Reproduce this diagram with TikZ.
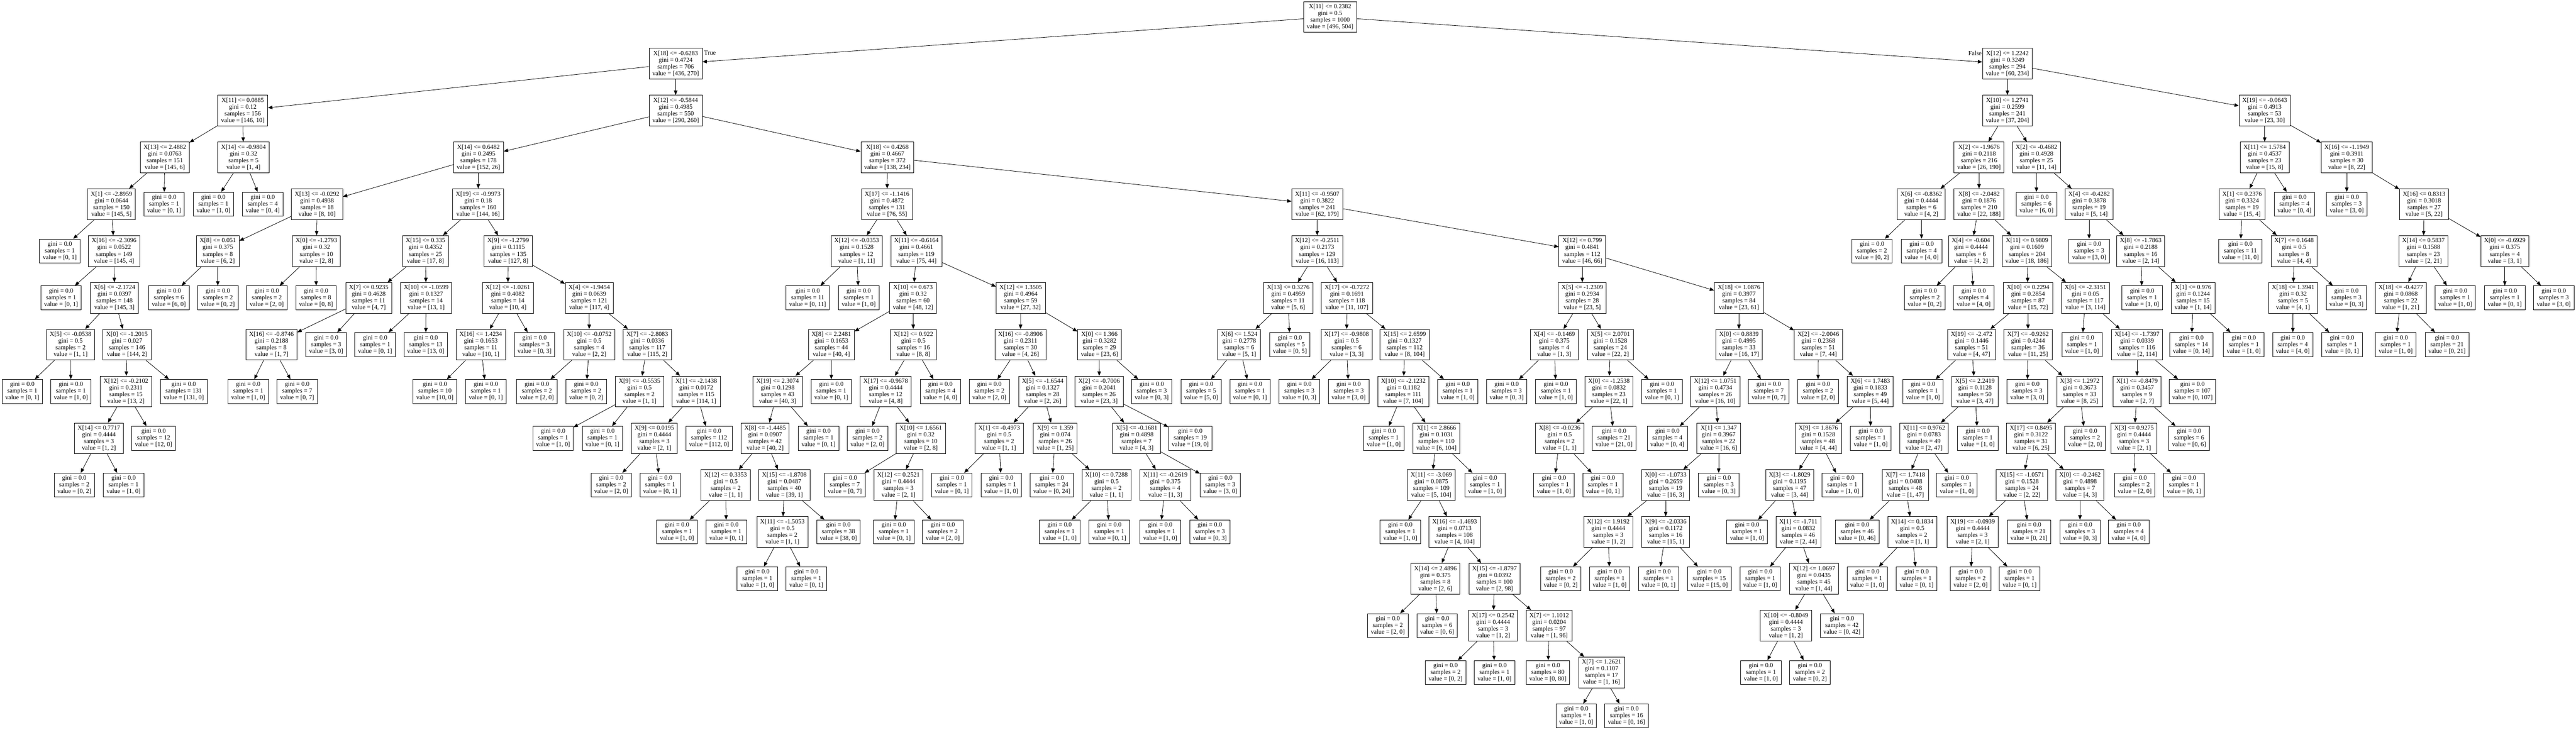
\documentclass[tikz,border=0pt]{standalone}
\usepackage{fontspec}
\setmainfont{Liberation Serif}
\usetikzlibrary{arrows.meta}

\begin{document}
\begin{tikzpicture}[x=0.02cm, y=-2.774cm, font=\fontsize{10.6}{11.3}\selectfont,
  arr/.style={-{Triangle[length=7.5pt,width=6pt]}, line width=0.7pt}]
\tikzstyle{inode}=[draw, rectangle, align=center, line width=0.7pt, inner xsep=5.5pt, inner ysep=2pt, minimum height=51.8pt]
\tikzstyle{lnode}=[inode, minimum height=40.4pt]
\useasboundingbox (0,-0.3605) rectangle (7629,15.2199);
% root
\node[inode] (n0) at (3939,0) {X[11] <= 0.2382\\gini = 0.5\\samples = 1000\\value = [496, 504]};
% split nodes: name/x/rank/feature/threshold/gini/samples/value/parent
\foreach \nm/\xx/\kk/\ft/\tv/\gv/\sv/\vv/\pa in {
n1/2001/1/18/-0.6283/0.4724/706/{436, 270}/n0, n2/5945/1/12/1.2242/0.3249/294/{60, 234}/n0,
n3/719/2/11/0.0885/0.12/156/{146, 10}/n1, n4/2001/2/12/-0.5844/0.4985/550/{290, 260}/n1,
n5/5945/2/10/1.2741/0.2599/241/{37, 204}/n2, n6/6707/2/19/-0.0643/0.4913/53/{23, 30}/n2,
n7/488/3/13/2.4882/0.0763/151/{145, 6}/n3, n8/721/3/14/-0.9804/0.32/5/{1, 4}/n3,
n9/1417/3/14/0.6482/0.2495/178/{152, 26}/n4, n10/2628/3/18/0.4268/0.4667/372/{138, 234}/n4,
n11/5861/3/2/-1.9676/0.2118/216/{26, 190}/n5, n12/6031/3/2/-0.4682/0.4928/25/{11, 14}/n5,
n13/6707/3/11/1.5784/0.4537/23/{15, 8}/n6, n14/6950/3/16/-1.1949/0.3911/30/{8, 22}/n6,
n15/330/4/1/-2.8959/0.0644/150/{145, 5}/n7, n19/939/4/13/-0.0292/0.4938/18/{8, 10}/n9,
n20/1416/4/19/-0.9973/0.18/160/{144, 16}/n9, n21/2627/4/17/-1.1416/0.4872/131/{76, 55}/n10,
n22/3901/4/11/-0.9507/0.3822/241/{62, 179}/n10, n23/5690/4/6/-0.8362/0.4444/6/{4, 2}/n11,
n24/5861/4/8/-2.0482/0.1876/210/{22, 188}/n11, n26/6187/4/4/-0.4282/0.3878/19/{5, 14}/n12,
n27/6640/4/1/0.2376/0.3324/19/{15, 4}/n13, n30/7179/4/16/0.8313/0.3018/27/{5, 22}/n14,
n32/338/5/16/-2.3096/0.0522/149/{145, 4}/n15, n33/645/5/8/0.051/0.375/8/{6, 2}/n19,
n34/937/5/0/-1.2793/0.32/10/{2, 8}/n19, n35/1260/5/15/0.335/0.4352/25/{17, 8}/n20,
n36/1505/5/9/-1.2799/0.1115/135/{127, 8}/n20, n37/2537/5/12/-0.0353/0.1528/12/{1, 11}/n21,
n38/2714/5/11/-0.6164/0.4661/119/{75, 44}/n21, n39/3901/5/12/-0.2511/0.2173/129/{16, 113}/n22,
n40/4686/5/12/0.799/0.4841/112/{46, 66}/n22, n43/5837/5/4/-0.604/0.4444/6/{4, 2}/n24,
n44/6003/5/11/0.9809/0.1609/204/{18, 186}/n24, n46/6340/5/8/-1.7863/0.2188/16/{2, 14}/n26,
n48/6794/5/7/0.1648/0.5/8/{4, 4}/n27, n49/7177/5/14/0.5837/0.1588/23/{2, 21}/n30,
n50/7418/5/0/-0.6929/0.375/4/{3, 1}/n30,
n52/339/6/6/-2.1724/0.0397/148/{145, 3}/n32, n57/1092/6/7/0.9235/0.4628/11/{4, 7}/n35,
n58/1262/6/10/-1.0599/0.1327/14/{13, 1}/n35, n59/1504/6/12/-1.0261/0.4082/14/{10, 4}/n36,
n60/1745/6/4/-1.9454/0.0639/121/{117, 4}/n36, n63/2704/6/10/0.673/0.32/60/{48, 12}/n38,
n64/3023/6/12/1.3505/0.4964/59/{27, 32}/n38, n65/3815/6/13/0.3276/0.4959/11/{5, 6}/n39,
n66/3989/6/17/-0.7272/0.1691/118/{11, 107}/n39, n67/4686/6/5/-1.2309/0.2934/28/{23, 5}/n40,
n68/5150/6/18/1.0876/0.3977/84/{23, 61}/n40, n71/6006/6/10/0.2294/0.2854/87/{15, 72}/n44,
n72/6176/6/6/-2.3151/0.05/117/{3, 114}/n44, n74/6495/6/1/0.976/0.1244/15/{1, 14}/n46,
n75/6791/6/18/1.3941/0.32/5/{4, 1}/n48, n77/7110/6/18/-0.4277/0.0868/22/{1, 21}/n49,
n81/209/7/5/-0.0538/0.5/2/{1, 1}/n52, n82/376/7/0/-1.2015/0.027/146/{144, 2}/n52,
n83/804/7/16/-0.8746/0.2188/8/{1, 7}/n57, n87/1424/7/16/1.4234/0.1653/11/{10, 1}/n59,
n89/1745/7/10/-0.0752/0.5/4/{2, 2}/n60, n90/1917/7/7/-2.8083/0.0336/117/{115, 2}/n60,
n91/2462/7/8/2.2481/0.1653/44/{40, 4}/n63, n92/2705/7/12/0.922/0.5/16/{8, 8}/n63,
n93/3022/7/16/-0.8906/0.2311/30/{4, 26}/n64, n94/3256/7/0/1.366/0.3282/29/{23, 6}/n64,
n95/3670/7/6/1.524/0.2778/6/{5, 1}/n65, n97/3988/7/17/-0.9808/0.5/6/{3, 3}/n66,
n98/4160/7/15/2.6599/0.1327/112/{8, 104}/n66, n99/4603/7/4/-0.1469/0.375/4/{1, 3}/n67,
n100/4769/7/5/2.0701/0.1528/24/{22, 2}/n67, n101/5150/7/0/0.8839/0.4995/33/{16, 17}/n68,
n102/5385/7/2/-2.0046/0.2368/51/{7, 44}/n68, n103/5839/7/19/-2.472/0.1446/51/{4, 47}/n71,
n104/6006/7/7/-0.9262/0.4244/36/{11, 25}/n71, n106/6329/7/14/-1.7397/0.0339/116/{2, 114}/n72,
n115/373/8/12/-0.2102/0.2311/15/{13, 2}/n82, n123/1894/8/9/-0.5535/0.5/2/{1, 1}/n90,
n124/2062/8/1/-2.1438/0.0172/115/{114, 1}/n90, n125/2303/8/19/2.3074/0.1298/43/{40, 3}/n91,
n127/2623/8/17/-0.9678/0.4444/12/{4, 8}/n92, n130/3088/8/5/-1.6544/0.1327/28/{2, 26}/n93,
n131/3255/8/2/-0.7006/0.2041/26/{23, 3}/n94, n137/4156/8/10/-2.1232/0.1182/111/{7, 104}/n98,
n141/4765/8/0/-1.2538/0.0832/23/{22, 1}/n100, n143/5080/8/12/1.0751/0.4734/26/{16, 10}/n101,
n146/5539/8/6/1.7483/0.1833/49/{5, 44}/n102, n148/5849/8/5/2.2419/0.1128/50/{3, 47}/n103,
n150/6159/8/3/1.2972/0.3673/33/{8, 25}/n104, n151/6329/8/1/-0.8479/0.3457/9/{2, 7}/n106,
n153/293/9/14/0.7717/0.4444/3/{1, 2}/n115, n157/1938/9/9/0.0195/0.4444/3/{2, 1}/n124,
n159/2266/9/8/-1.4485/0.0907/42/{40, 2}/n125, n162/2727/9/10/1.6561/0.32/10/{2, 8}/n127,
n163/2959/9/1/-0.4973/0.5/2/{1, 1}/n130, n164/3125/9/9/1.359/0.074/26/{1, 25}/n130,
n165/3366/9/5/-0.1681/0.4898/7/{4, 3}/n131, n168/4254/9/1/2.8666/0.1031/110/{6, 104}/n137,
n169/4619/9/8/-0.0236/0.5/2/{1, 1}/n141, n172/5090/9/1/1.347/0.3967/22/{16, 6}/n143,
n173/5385/9/9/1.8676/0.1528/48/{4, 44}/n146, n175/5698/9/11/0.9762/0.0783/49/{2, 47}/n148,
n177/6015/9/17/0.8495/0.3122/31/{6, 25}/n150, n179/6320/9/3/0.9275/0.4444/3/{2, 1}/n151,
n185/2149/10/12/0.3353/0.5/2/{1, 1}/n159, n186/2323/10/15/-1.8708/0.0487/40/{39, 1}/n159,
n188/2661/10/12/0.2521/0.4444/3/{2, 1}/n162, n192/3277/10/10/0.7288/0.5/2/{1, 1}/n164,
n193/3451/10/11/-0.2619/0.375/4/{1, 3}/n165, n195/4239/10/11/-3.069/0.0875/109/{5, 104}/n168,
n199/4933/10/0/-1.0733/0.2659/19/{16, 3}/n172, n201/5300/10/3/-1.8029/0.1195/47/{3, 44}/n173,
n203/5643/10/7/1.7418/0.0408/48/{1, 47}/n175, n205/5988/10/15/-1.0571/0.1528/24/{2, 22}/n177,
n206/6160/10/0/-0.2462/0.4898/7/{4, 3}/n177,
n211/2317/11/11/-1.5053/0.5/2/{1, 1}/n186, n220/4308/11/16/-1.4693/0.0713/108/{4, 104}/n195,
n221/4763/11/12/1.9192/0.4444/3/{1, 2}/n199, n222/4933/11/9/-2.0336/0.1172/16/{15, 1}/n199,
n224/5326/11/1/-1.711/0.0832/46/{2, 44}/n201, n226/5663/11/14/0.1834/0.5/2/{1, 1}/n203,
n227/5842/11/19/-0.0939/0.4444/3/{2, 1}/n205,
n233/4251/12/14/2.4896/0.375/8/{2, 6}/n220, n234/4426/12/15/-1.8797/0.0392/100/{2, 98}/n220,
n240/5372/12/12/1.0697/0.0435/45/{1, 44}/n224,
n247/4422/13/17/0.2542/0.4444/3/{1, 2}/n234, n248/4588/13/7/1.1012/0.0204/97/{1, 96}/n234,
n249/5289/13/10/-0.8049/0.4444/3/{1, 2}/n240,
n254/4743/14/7/1.2621/0.1107/17/{1, 16}/n248}{
\node[inode] (\nm) at (\xx,\kk) {X[\ft] <= \tv\\gini = \gv\\samples = \sv\\value = [\vv]};
\draw[arr] (\pa) -- (\nm);}
% leaves: name/x/rank/samples/value/parent
\foreach \nm/\xx/\kk/\sv/\vv/\pa in {
n16/486/4/1/{0, 1}/n7, n17/632/4/1/{1, 0}/n8, n18/778/4/4/{0, 4}/n8, n25/6031/4/6/{6, 0}/n12,
n28/6795/4/4/{0, 4}/n13, n29/6950/4/3/{3, 0}/n14,
n31/177/5/1/{0, 1}/n15, n41/5544/5/2/{0, 2}/n23, n42/5691/5/4/{4, 0}/n23, n45/6187/5/3/{3, 0}/n26,
n47/6635/5/11/{11, 0}/n27,
n51/181/6/1/{0, 1}/n32, n53/500/6/6/{6, 0}/n33, n54/645/6/2/{0, 2}/n33, n55/790/6/2/{2, 0}/n34,
n56/936/6/8/{0, 8}/n34, n61/2392/6/11/{0, 11}/n37, n62/2543/6/1/{1, 0}/n37, n69/5700/6/2/{0, 2}/n43,
n70/5845/6/4/{4, 0}/n43, n73/6344/6/1/{1, 0}/n46, n76/6949/6/3/{0, 3}/n48, n78/7271/6/1/{1, 0}/n49,
n79/7418/6/1/{0, 1}/n50, n80/7563/6/3/{3, 0}/n50,
n84/966/7/3/{3, 0}/n57, n85/1111/7/1/{0, 1}/n58, n86/1261/7/13/{13, 0}/n58, n88/1583/7/3/{0, 3}/n59,
n96/3820/7/5/{0, 5}/n65, n105/6166/7/1/{1, 0}/n72, n107/6490/7/14/{0, 14}/n74, n108/6645/7/1/{1, 0}/n74,
n109/6790/7/4/{4, 0}/n75, n110/6936/7/1/{0, 1}/n75, n111/7095/7/1/{1, 0}/n77, n112/7247/7/21/{0, 21}/n77,
n113/66/8/1/{0, 1}/n81, n114/210/8/1/{1, 0}/n81, n116/544/8/131/{131, 0}/n82, n117/735/8/1/{1, 0}/n83,
n118/880/8/7/{0, 7}/n83, n119/1288/8/10/{10, 0}/n87, n120/1439/8/1/{0, 1}/n87, n121/1590/8/2/{2, 0}/n89,
n122/1736/8/2/{0, 2}/n89, n126/2462/8/1/{0, 1}/n91, n128/2785/8/4/{4, 0}/n92, n129/2930/8/2/{2, 0}/n93,
n132/3411/8/3/{0, 3}/n94, n133/3557/8/5/{5, 0}/n95, n134/3702/8/1/{0, 1}/n95, n135/3848/8/3/{0, 3}/n97,
n136/3994/8/3/{3, 0}/n97, n138/4317/8/1/{1, 0}/n98, n139/4462/8/3/{0, 3}/n99, n140/4608/8/1/{1, 0}/n99,
n142/4922/8/1/{0, 1}/n100, n144/5238/8/7/{0, 7}/n101, n145/5384/8/2/{2, 0}/n102, n147/5695/8/1/{1, 0}/n103,
n149/6004/8/3/{3, 0}/n104, n152/6493/8/107/{0, 107}/n106,
n154/455/9/12/{12, 0}/n115, n155/1638/9/1/{1, 0}/n123, n156/1784/9/1/{0, 1}/n123, n158/2100/9/112/{112, 0}/n124,
n160/2424/9/1/{0, 1}/n125, n161/2569/9/2/{2, 0}/n127, n166/3525/9/19/{19, 0}/n131, n167/4098/9/1/{1, 0}/n137,
n170/4780/9/21/{21, 0}/n141, n171/4938/9/4/{0, 4}/n143, n174/5540/9/1/{1, 0}/n146, n176/5857/9/1/{1, 0}/n148,
n178/6175/9/2/{2, 0}/n150, n180/6483/9/6/{0, 6}/n151,
n181/220/10/2/{0, 2}/n153, n182/366/10/1/{1, 0}/n153, n183/1810/10/2/{2, 0}/n157, n184/1955/10/1/{0, 1}/n157,
n187/2502/10/7/{0, 7}/n162, n189/2819/10/1/{0, 1}/n163, n190/2965/10/1/{1, 0}/n163, n191/3115/10/24/{0, 24}/n164,
n194/3614/10/3/{3, 0}/n165, n196/4398/10/1/{1, 0}/n168, n197/4602/10/1/{1, 0}/n169, n198/4747/10/1/{0, 1}/n169,
n200/5090/10/3/{0, 3}/n172, n202/5456/10/1/{1, 0}/n173, n204/5795/10/1/{1, 0}/n175, n207/6322/10/2/{2, 0}/n179,
n208/6468/10/1/{0, 1}/n179,
n209/2005/11/1/{1, 0}/n185, n210/2151/11/1/{0, 1}/n185, n212/2483/11/38/{38, 0}/n186, n213/2647/11/1/{0, 1}/n188,
n214/2792/11/2/{2, 0}/n188, n215/3138/11/1/{1, 0}/n192, n216/3285/11/1/{0, 1}/n192, n217/3436/11/1/{1, 0}/n193,
n218/3583/11/3/{0, 3}/n193, n219/4147/11/1/{1, 0}/n195, n223/5174/11/1/{1, 0}/n201, n225/5500/11/46/{0, 46}/n203,
n228/6009/11/21/{0, 21}/n205, n229/6160/11/3/{0, 3}/n206, n230/6304/11/4/{4, 0}/n206,
n231/2243/12/1/{1, 0}/n211, n232/2388/12/1/{0, 1}/n211, n235/4622/12/2/{0, 2}/n221, n236/4767/12/1/{1, 0}/n221,
n237/4912/12/1/{0, 1}/n222, n238/5062/12/15/{15, 0}/n222, n239/5213/12/1/{1, 0}/n224, n241/5530/12/1/{1, 0}/n226,
n242/5676/12/1/{0, 1}/n226, n243/5836/12/2/{2, 0}/n227, n244/5981/12/1/{0, 1}/n227,
n245/4110/13/2/{2, 0}/n233, n246/4256/13/6/{0, 6}/n233, n250/5455/13/42/{0, 42}/n240,
n251/4281/14/2/{0, 2}/n247, n252/4426/14/1/{1, 0}/n247, n253/4584/14/80/{0, 80}/n248,
n255/5215/14/1/{1, 0}/n249, n256/5360/14/2/{0, 2}/n249,
n257/4668/14.929/1/{1, 0}/n254, n258/4817/14.929/16/{0, 16}/n254}{
\node[lnode] (\nm) at (\xx,\kk) {gini = 0.0\\samples = \sv\\value = [\vv]};
\draw[arr] (\pa) -- (\nm);}
\node[anchor=west, inner sep=0pt] (tl) at (2085,0.7715) {True};
\node[anchor=east, inner sep=0pt] (fl) at (5869,0.779) {False};
\end{tikzpicture}
\end{document}
